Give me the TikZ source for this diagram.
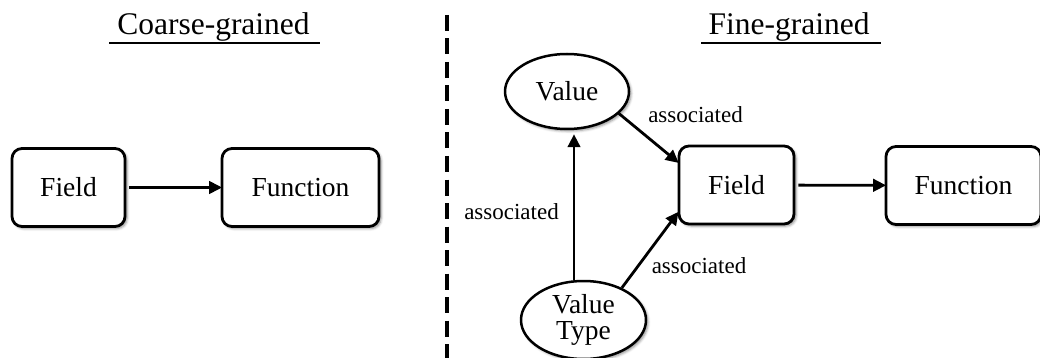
\documentclass[tikz,border=0pt]{standalone}
\usepackage{fontspec}
\setmainfont{Liberation Serif}
\usetikzlibrary{shapes.geometric,arrows.meta,shadows.blur,calc}
\begin{document}
\begin{tikzpicture}[x=1pt,y=-1pt,
  softshadow/.style={blur shadow={shadow xshift=2pt, shadow yshift=-2pt, shadow blur radius=2.5pt, shadow opacity=45}},
  box/.style={draw, line width=2.8pt, rounded corners=10pt, fill=white,
    minimum height=78pt, inner sep=0pt, font=\fontsize{27.5}{27.5}\selectfont, softshadow},
  oval/.style={draw, ellipse, line width=2.5pt, fill=white, inner sep=0pt,
    align=center, font=\fontsize{27.5}{27.5}\selectfont, softshadow},
  arr/.style={line width=2.8pt, -{Triangle[length=13pt,width=12.5pt]}},
  lbl/.style={font=\fontsize{23}{23}\selectfont, anchor=base, inner sep=0pt},
  ttl/.style={font=\fontsize{31.5}{31.5}\selectfont, anchor=base, inner sep=0pt},
  uline/.style={line width=2.7pt},
  divider/.style={line width=3.3pt, dash pattern=on 16pt off 7.5pt}
]
\useasboundingbox (0,0) rectangle (1040,358);

% titles and their underlines
\node[ttl] (ctitle) at (213.5,35) {Coarse-grained};
\node[ttl] (ftitle) at (789,35) {Fine-grained};
\coordinate (cu1) at (109,43);
\coordinate (cu2) at (320,43);
\coordinate (fu1) at (701,43);
\coordinate (fu2) at (881,43);
\draw[uline] (cu1) -- (cu2);
\draw[uline] (fu1) -- (fu2);

% dashed separator
\coordinate (dtop) at (447,15);
\coordinate (dbot) at (447,360);
\draw[divider] (dtop) -- (dbot);

% coarse-grained side
\node[box, minimum width=113pt] (fieldL) at (68.5,187.5) {Field};
\node[box, minimum width=157pt] (funcL) at (300.5,187.5) {Function};
\draw[arr, shorten <=3pt, shorten >=-1.5pt] (fieldL) -- (funcL);

% fine-grained side
\node[box, minimum width=115pt] (fieldR) at (736.5,185) {Field};
\node[box, minimum width=155pt] (funcR) at (963.5,185.5) {Function};
\node[oval, minimum width=124pt, minimum height=75pt] (value) at (567,91.5) {Value};
\node[oval, minimum width=125pt, minimum height=78pt] (vtype) at (583.5,320)
  {Value\\[-1pt]Type};

\draw[arr, shorten <=3pt, shorten >=-1.5pt] (fieldR) -- (funcR);
\draw[arr, shorten >=-1.5pt] (value.-23) -- ([yshift=23pt]fieldR.west);
\draw[arr, shorten >=-1.5pt] (vtype.40) -- ([yshift=-28pt]fieldR.west);
\draw[arr, shorten >=4pt] ([xshift=-9.5pt]vtype.north) -- ([xshift=7pt]value.south);

% edge labels
\node[lbl] (l1) at (695.5,123) {associated};
\node[lbl] (l2) at (511.5,219) {associated};
\node[lbl] (l3) at (699,273) {associated};
\end{tikzpicture}
\end{document}
